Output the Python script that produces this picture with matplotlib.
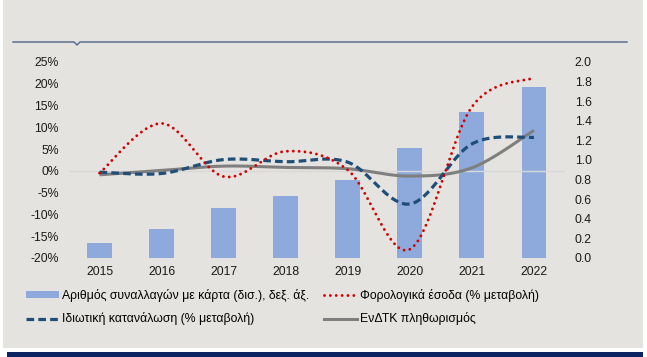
"""Card transactions vs tax revenue, private consumption and HICP inflation."""

import matplotlib.pyplot as plt
import numpy as np
from matplotlib.lines import Line2D
from matplotlib.patches import Rectangle

plt.rcParams["font.family"] = ["Liberation Sans", "DejaVu Sans"]

W, H = 647, 357

years = ["2015", "2016", "2017", "2018", "2019", "2020", "2021", "2022"]
card_transactions = [0.15, 0.30, 0.51, 0.63, 0.80, 1.12, 1.49, 1.74]  # bn, right axis
tax_revenue = [-0.5, 10.9, -1.3, 4.5, 0.2, -18.0, 14.7, 21.4]  # % change
private_consumption = [-0.3, -0.6, 2.6, 2.1, 2.0, -7.6, 6.2, 7.7]  # % change
hicp_inflation = [-0.9, 0.1, 1.1, 0.8, 0.5, -1.2, 0.7, 9.3]  # %

left_ticks = [-20, -15, -10, -5, 0, 5, 10, 15, 20, 25]
right_ticks = [0.0, 0.2, 0.4, 0.6, 0.8, 1.0, 1.2, 1.4, 1.6, 1.8, 2.0]

labels = [
    "Αριθμός συναλλαγών με κάρτα (δισ.), δεξ. άξ.",
    "Ιδιωτική κατανάλωση (% μεταβολή)",
    "Φορολογικά έσοδα (% μεταβολή)",
    "ΕνΔΤΚ πληθωρισμός",
]

BG = "#e4e3df"
BAR = "#8eaadc"
RED = "#d40000"
BLUE = "#1f4e79"
GREY = "#7f7f7f"
FS = 8.8


def smooth(x, y, n=40):
    """Catmull-Rom style smoothing similar to a spreadsheet 'smoothed line'."""
    x = np.asarray(x, float)
    y = np.asarray(y, float)
    px = np.concatenate([[x[0]], x, [x[-1]]])
    py = np.concatenate([[y[0]], y, [y[-1]]])
    xs, ys = [], []
    t = np.linspace(0, 1, n)
    for i in range(1, len(px) - 2):
        p0 = np.array([px[i], py[i]])
        p3 = np.array([px[i + 1], py[i + 1]])
        c1 = p0 + (p3 - np.array([px[i - 1], py[i - 1]])) / 6
        c2 = p3 - (np.array([px[i + 2], py[i + 2]]) - p0) / 6
        b = (
            ((1 - t) ** 3)[:, None] * p0
            + (3 * (1 - t) ** 2 * t)[:, None] * c1
            + (3 * (1 - t) * t**2)[:, None] * c2
            + (t**3)[:, None] * p3
        )
        xs.append(b[:, 0])
        ys.append(b[:, 1])
    return np.concatenate(xs), np.concatenate(ys)


fig = plt.figure(figsize=(W / 100, H / 100), dpi=100, facecolor="white")

# panel background, top rule and bottom band
fig.patches.append(Rectangle((3 / W, 1 - 348 / H), 640 / W, 348 / H, transform=fig.transFigure,
                             facecolor=BG, edgecolor="none", zorder=-10))
fig.patches.append(Rectangle((7 / W, 0), 636 / W, 5 / H, transform=fig.transFigure,
                             facecolor="#0c2461", edgecolor="none", zorder=-10))
rx = np.array([13, 74, 77, 80, 627]) / W
ry = 1 - np.array([42, 42, 45, 42, 42]) / H
fig.lines.append(Line2D(rx, ry, transform=fig.transFigure, color="#5b7090", lw=1.1))

left, right, bottom, top = 68.5 / W, 565 / W, 1 - 258 / H, 1 - 62 / H
ax_bar = fig.add_axes([left, bottom, right - left, top - bottom])
ax_line = ax_bar.twinx()

x = np.arange(len(years))

ax_bar.bar(x, card_transactions, width=0.4, color=BAR, zorder=2)
ax_bar.set_ylim(0, 2.0)
ax_bar.set_yticks(right_ticks)
ax_bar.set_yticklabels([f"{v:.1f}" for v in right_ticks])
ax_bar.yaxis.tick_right()
ax_bar.set_xlim(-0.5, len(years) - 0.5)
ax_bar.set_xticks(x)
ax_bar.set_xticklabels(years)

ax_line.axhline(0, color="#d8d8d8", lw=1.0, zorder=1)
sx, sy = smooth(x, hicp_inflation)
ax_line.plot(sx, sy, color=GREY, lw=2.2, solid_capstyle="butt", zorder=3)
sx, sy = smooth(x, private_consumption)
ax_line.plot(sx, sy, color=BLUE, lw=2.3, linestyle=(0, (2.4, 1.3)), zorder=4)
sx, sy = smooth(x, tax_revenue)
ax_line.plot(sx, sy, color=RED, lw=2.1, linestyle=(0, (0.01, 2.0)), dash_capstyle="round", zorder=5)
ax_line.set_ylim(-20, 25)
ax_line.set_yticks(left_ticks)
ax_line.set_yticklabels([f"{v}%" for v in left_ticks])
ax_line.yaxis.tick_left()

for ax in (ax_bar, ax_line):
    ax.set_facecolor("none")
    for s in ax.spines.values():
        s.set_visible(False)
    ax.tick_params(length=0, labelsize=FS, colors="#1a1a1a")
ax_bar.tick_params(axis="y", pad=7)
ax_line.tick_params(axis="y", pad=7)
ax_bar.tick_params(axis="x", pad=6)

handles = [
    Rectangle((0, 0), 1, 1, facecolor=BAR, edgecolor="none"),
    Line2D([], [], color=BLUE, lw=2.3, linestyle=(0, (2.4, 1.3))),
    Line2D([], [], color=RED, lw=2.1, linestyle=(0, (0.01, 2.0)), dash_capstyle="round"),
    Line2D([], [], color=GREY, lw=2.2),
]
fig.legend(handles, labels, ncol=2, loc="upper left", bbox_to_anchor=(26 / W, 1 - 289 / H),
           frameon=False, fontsize=FS, handlelength=2.7, handleheight=0.45, handletextpad=0.25,
           columnspacing=1.2, labelspacing=0.85, borderpad=0, borderaxespad=0)

fig.savefig("out.png", dpi=100, facecolor=fig.get_facecolor())
